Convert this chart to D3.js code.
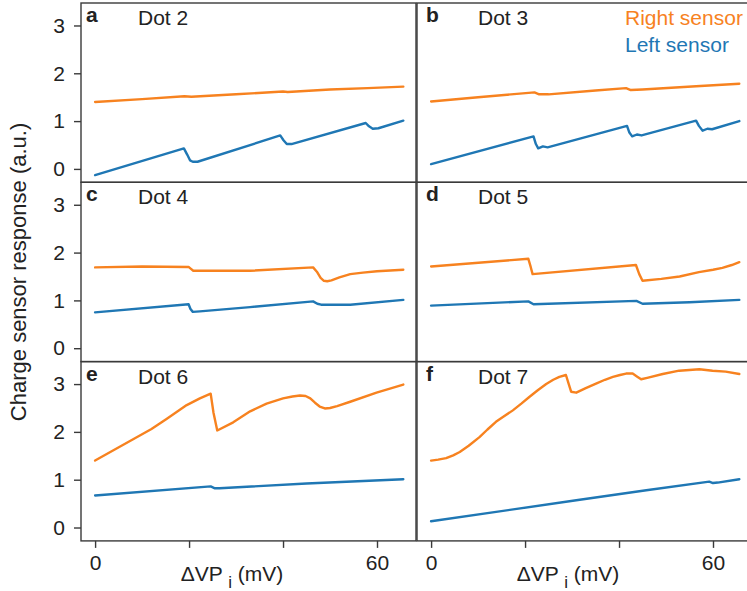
<!DOCTYPE html>
<html>
<head>
<meta charset="utf-8">
<script src="https://cdn.jsdelivr.net/npm/d3@7"></script>
<style>
  body { margin: 0; background: #fff; }
  svg { font-family: "Liberation Sans", Arial, sans-serif; }
</style>
</head>
<body>
<div id="chart"></div>
<script>
// panel labels and ticks
const panelLetters = ['a', 'b', 'c', 'd', 'e', 'f'];
const dotNames = ['Dot 2', 'Dot 3', 'Dot 4', 'Dot 5', 'Dot 6', 'Dot 7'];
const seriesNames = ['Right sensor', 'Left sensor'];
const yTicks = [0, 1, 2, 3];
const xTicks = [0, 20, 40, 60];
const xTickLabels = ['0', '', '', '60'];

// [ΔVP_i (mV), response (a.u.)]
const dot2Right = [[0,1.40],[10,1.46],[19,1.52],[20.5,1.51],[30,1.56],[40,1.62],[41,1.61],[50,1.66],[58,1.69],[65.6,1.72]];
const dot2Left = [[0,-0.13],[18.9,0.43],[19.6,0.30],[20.2,0.18],[20.8,0.15],[21.8,0.15],[39.4,0.70],[40.1,0.60],[40.8,0.52],[41.8,0.52],[57.6,0.96],[58.3,0.89],[59.1,0.84],[60.3,0.85],[65.6,1.01]];

const dot3Right = [[0,1.41],[10,1.50],[22,1.60],[23,1.56],[25,1.56],[35,1.64],[41.5,1.69],[42.5,1.65],[45,1.66],[56.4,1.73],[65.6,1.78]];
const dot3Left = [[0,0.10],[21.8,0.68],[22.3,0.52],[22.8,0.43],[23.8,0.47],[24.8,0.45],[41.7,0.90],[42.2,0.76],[42.8,0.68],[43.8,0.72],[44.8,0.70],[56.4,1.01],[57,0.90],[57.8,0.80],[58.8,0.84],[59.8,0.83],[65.6,1.00]];

const dot4Right = [[0,1.69],[10,1.71],[19.9,1.70],[20.4,1.66],[20.9,1.62],[33,1.62],[46.4,1.69],[47.2,1.60],[48,1.47],[48.7,1.41],[49.4,1.40],[50.3,1.42],[52,1.48],[54.3,1.55],[57,1.58],[60,1.61],[65.6,1.64]];
const dot4Left = [[0,0.75],[19.9,0.92],[20.3,0.82],[20.8,0.76],[22.3,0.77],[33,0.86],[46.4,0.98],[47.3,0.93],[48.1,0.91],[54.3,0.91],[65.6,1.01]];

const dot5Right = [[0,1.71],[20.7,1.87],[21.2,1.70],[21.6,1.55],[43.6,1.74],[44.3,1.55],[45,1.41],[49,1.45],[52.9,1.50],[57,1.59],[60,1.64],[62,1.68],[64,1.74],[65.6,1.80]];
const dot5Left = [[0,0.89],[20.7,0.98],[21.8,0.92],[43.7,0.99],[45,0.93],[55,0.96],[65.6,1.01]];

const dot6Right = [[0,1.40],[4,1.62],[8,1.84],[12,2.06],[15.2,2.27],[19.5,2.56],[22.3,2.70],[24.6,2.80],[25.2,2.40],[26,2.03],[29.4,2.20],[33,2.43],[36.5,2.59],[40,2.70],[42,2.74],[43.6,2.76],[44.8,2.75],[45.8,2.70],[46.8,2.61],[47.8,2.53],[48.9,2.49],[50,2.50],[51.5,2.54],[54.3,2.63],[59.9,2.82],[65.6,2.99]];
const dot6Left = [[0,0.67],[24.6,0.86],[25.5,0.82],[26.5,0.82],[45,0.92],[65.6,1.01]];

const dot7Right = [[0,1.40],[1.5,1.42],[3.2,1.45],[4.7,1.51],[6.1,1.58],[8,1.71],[10.3,1.89],[12,2.05],[13.8,2.21],[15.6,2.33],[17.4,2.45],[19.2,2.59],[20.9,2.73],[22.7,2.87],[24.5,3.00],[26,3.09],[27.3,3.15],[28.7,3.19],[29.3,3.00],[29.8,2.84],[30.9,2.82],[32.8,2.91],[35.1,3.01],[37,3.09],[38.7,3.15],[40.2,3.19],[41.5,3.22],[42.9,3.22],[43.8,3.16],[44.7,3.10],[46,3.13],[49.3,3.21],[52.8,3.28],[57.1,3.31],[59.9,3.28],[62.7,3.26],[65.6,3.21]];
const dot7Left = [[0,0.13],[30.9,0.57],[45.8,0.78],[59.2,0.96],[60,0.93],[61,0.94],[65.6,1.01]];

const rightSensor = [dot2Right, dot3Right, dot4Right, dot5Right, dot6Right, dot7Right];
const leftSensor = [dot2Left, dot3Left, dot4Left, dot5Left, dot6Left, dot7Left];

const colors = ['#f7821f', '#1f77b4'];
const frameColor = '#3a3a3a';

const width = 747, height = 591;
const colLeft = [81, 417], panelW = 335;
const rowTop = [3, 182.3, 361.6], panelH = 179.3;

const svg = d3.select('#chart').append('svg')
    .attr('width', width)
    .attr('height', height);

const line = d3.line();

panelLetters.forEach((letter, i) => {
    const col = i % 2, row = Math.floor(i / 2);
    const left = colLeft[col], top = rowTop[row];

    const x = d3.scaleLinear().domain([-3, 68.3]).range([left, left + panelW]);
    const y = d3.scaleLinear().domain([-0.28, 3.47]).range([top + panelH, top]);

    svg.append('rect')
        .attr('x', x.range()[0])
        .attr('y', y.range()[1])
        .attr('width', panelW)
        .attr('height', panelH)
        .attr('fill', 'none')
        .attr('stroke', frameColor)
        .attr('stroke-width', 1.4);

    if (col === 0) {
        const ax = svg.append('g')
            .attr('transform', `translate(${left},0)`)
            .call(d3.axisLeft(y).tickValues(yTicks).tickFormat(d3.format('d'))
                .tickSize(7).tickPadding(9));
        ax.select('.domain').remove();
        ax.selectAll('line').attr('stroke', frameColor).attr('stroke-width', 1.4);
        ax.selectAll('text').attr('font-size', 21).attr('fill', '#222')
            .style('font-family', '"Liberation Sans", Arial, sans-serif');
    }

    if (row === 2) {
        const ax = svg.append('g')
            .attr('transform', `translate(0,${top + panelH})`)
            .call(d3.axisBottom(x).tickValues(xTicks)
                .tickFormat((d, k) => xTickLabels[k]).tickSize(7).tickPadding(7));
        ax.select('.domain').remove();
        ax.selectAll('line').attr('stroke', frameColor).attr('stroke-width', 1.4);
        ax.selectAll('text').attr('font-size', 21).attr('fill', '#222')
            .style('font-family', '"Liberation Sans", Arial, sans-serif');

        const lbl = svg.append('text')
            .attr('x', left + 151)
            .attr('y', top + panelH + 40)
            .attr('text-anchor', 'middle')
            .attr('font-size', 21)
            .attr('fill', '#222');
        lbl.append('tspan').text('ΔVP ');
        lbl.append('tspan').attr('dy', 7).attr('font-size', 17).text('i');
        lbl.append('tspan').attr('dy', -7).text(' (mV)');
    }

    [rightSensor[i], leftSensor[i]].forEach((data, s) => {
        svg.append('path')
            .attr('d', line.x(d => x(d[0])).y(d => y(d[1]))(data))
            .attr('fill', 'none')
            .attr('stroke', colors[s])
            .attr('stroke-width', 2.4)
            .attr('stroke-linejoin', 'round')
            .attr('stroke-linecap', 'round');
    });

    svg.append('text')
        .attr('x', left + 5 + col * 4)
        .attr('y', top + 19)
        .attr('font-size', 21)
        .attr('font-weight', 'bold')
        .attr('fill', '#222')
        .text(letter);

    svg.append('text')
        .attr('x', left + 57 + col * 4)
        .attr('y', top + 22)
        .attr('font-size', 21)
        .attr('fill', '#222')
        .text(dotNames[i]);

    if (i === 1) {
        seriesNames.forEach((name, s) => {
            svg.append('text')
                .attr('x', left + 208)
                .attr('y', top + 22 + s * 27)
                .attr('font-size', 21)
                .attr('fill', colors[s])
                .text(name);
        });
    }
});

svg.append('text')
    .attr('transform', `translate(26,${(rowTop[0] + rowTop[2] + panelH) / 2}) rotate(-90)`)
    .attr('text-anchor', 'middle')
    .attr('font-size', 22)
    .attr('fill', '#222')
    .text('Charge sensor response (a.u.)');
</script>
</body>
</html>
